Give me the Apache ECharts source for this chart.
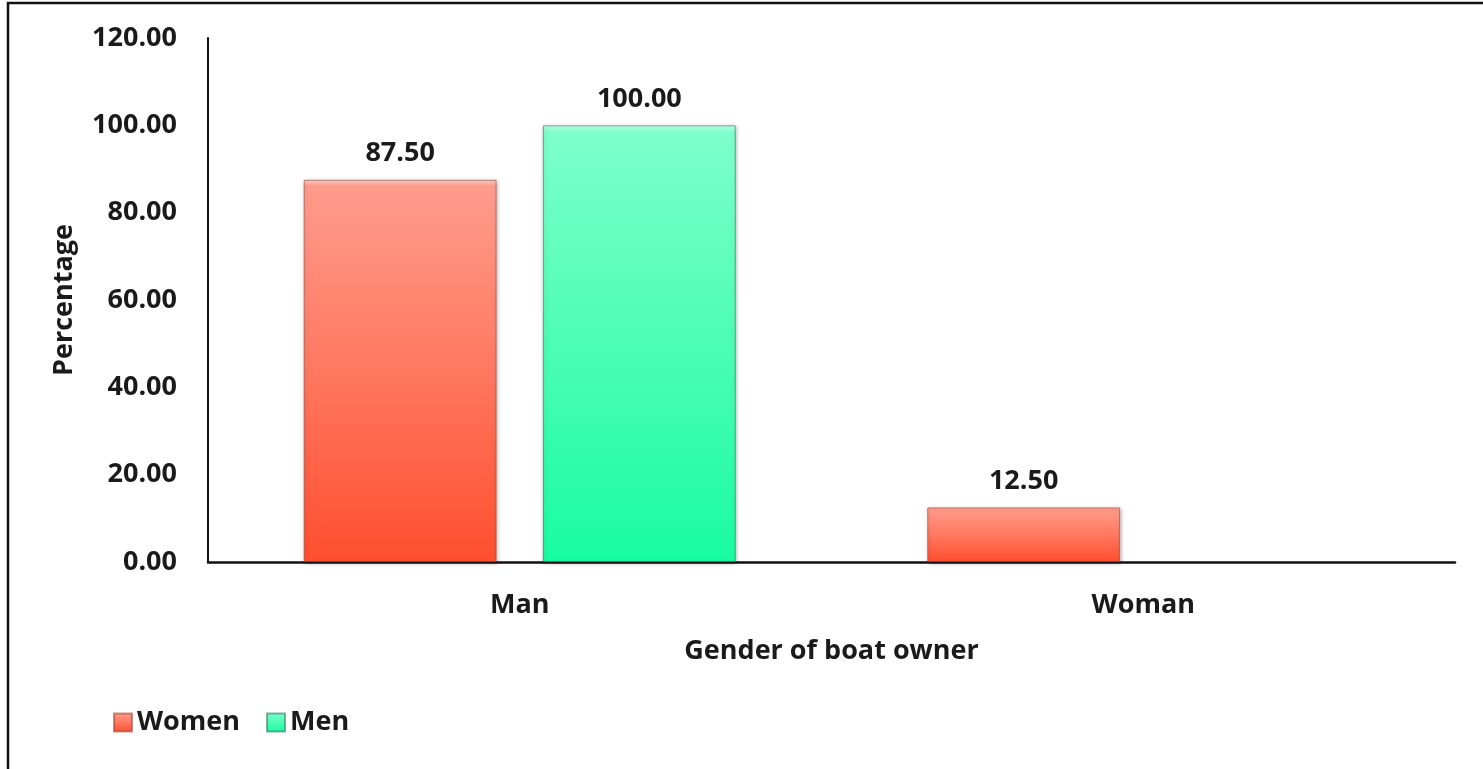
<!DOCTYPE html>
<html>
<head>
<meta charset="utf-8">
<script src="https://cdn.jsdelivr.net/npm/echarts@6/dist/echarts.min.js"></script>
<style>
  html, body { margin: 0; padding: 0; background: #fff; }
  #chart { width: 1483px; height: 769px; }
</style>
</head>
<body>
<div id="chart"></div>
<script>
// Share of boat owners by gender, split by respondent group
const categories = ['Man', 'Woman'];
const seriesNames = ['Women', 'Men'];
const womenValues = [87.5, 12.5];
const menValues = [100.0, null];
const yTicks = { min: 0, max: 120, interval: 20 };

const FONT = '"Open Sans", Lato, sans-serif';
const TEXT = '#1a1a1a';
const FS = 27;

const womenFill = {
  type: 'linear', x: 0, y: 0, x2: 0, y2: 1,
  colorStops: [
    { offset: 0, color: '#ffd6cc' },
    { offset: 0.015, color: '#ff9c8c' },
    { offset: 0.5, color: '#ff7860' },
    { offset: 1, color: '#ff4e2e' }
  ]
};
const menFill = {
  type: 'linear', x: 0, y: 0, x2: 0, y2: 1,
  colorStops: [
    { offset: 0, color: '#c8fff0' },
    { offset: 0.015, color: '#7dffcc' },
    { offset: 0.5, color: '#4cfdb6' },
    { offset: 1, color: '#18fca2' }
  ]
};

const labelStyle = {
  show: true,
  position: 'top',
  distance: 13,
  fontFamily: FONT,
  fontWeight: 'bold',
  fontSize: FS,
  color: TEXT,
  formatter: p => p.value == null ? '' : Number(p.value).toFixed(2)
};

const chart = echarts.init(document.getElementById('chart'), null, { renderer: 'canvas' });
chart.setOption({
  backgroundColor: '#fff',
  animation: false,
  textStyle: { fontFamily: FONT },
  graphic: [{
    type: 'polyline',
    shape: { points: [[8, 800], [8, 3], [1500, 3]] },
    style: { stroke: '#111', lineWidth: 2.5, fill: null }
  }],
  grid: { left: 208, right: 28, top: 38, bottom: 207, containLabel: false },
  legend: {
    left: 108,
    top: 704,
    itemWidth: 18,
    itemHeight: 18,
    itemGap: 26,
    icon: 'rect',
    textStyle: { fontFamily: FONT, fontWeight: 'bold', fontSize: FS, color: TEXT, padding: [0, 0, 0, 0] },
    data: seriesNames
  },
  xAxis: {
    type: 'category',
    data: categories,
    name: 'Gender of boat owner',
    nameLocation: 'middle',
    nameGap: 76,
    nameTextStyle: { fontFamily: FONT, fontWeight: 'bold', fontSize: FS, color: TEXT },
    axisLine: { lineStyle: { color: '#111', width: 2.5 } },
    axisTick: { show: false },
    axisLabel: { margin: 30, fontFamily: FONT, fontWeight: 'bold', fontSize: FS, color: TEXT }
  },
  yAxis: {
    type: 'value',
    min: yTicks.min,
    max: yTicks.max,
    interval: yTicks.interval,
    name: 'Percentage',
    nameLocation: 'middle',
    nameGap: 130,
    nameRotate: 90,
    nameTextStyle: { fontFamily: FONT, fontWeight: 'bold', fontSize: FS, color: TEXT },
    splitLine: { show: false },
    axisLine: { show: true, lineStyle: { color: '#111', width: 2 } },
    axisTick: { show: false },
    axisLabel: {
      margin: 31,
      fontFamily: FONT, fontWeight: 'bold', fontSize: FS, color: TEXT,
      formatter: v => v.toFixed(2)
    }
  },
  series: [
    {
      name: seriesNames[0],
      type: 'bar',
      data: womenValues,
      barGap: '24%',
      barCategoryGap: '30.7%',
      itemStyle: {
        color: womenFill,
        borderColor: 'rgba(150,60,50,0.55)',
        borderWidth: 1,
        shadowColor: 'rgba(0,0,0,0.3)',
        shadowBlur: 4,
        shadowOffsetX: 1,
        shadowOffsetY: 1
      },
      label: labelStyle
    },
    {
      name: seriesNames[1],
      type: 'bar',
      data: menValues,
      barGap: '24%',
      barCategoryGap: '30.7%',
      itemStyle: {
        color: menFill,
        borderColor: 'rgba(40,110,80,0.55)',
        borderWidth: 1,
        shadowColor: 'rgba(0,0,0,0.3)',
        shadowBlur: 4,
        shadowOffsetX: 1,
        shadowOffsetY: 1
      },
      label: labelStyle
    }
  ]
});
</script>
</body>
</html>
